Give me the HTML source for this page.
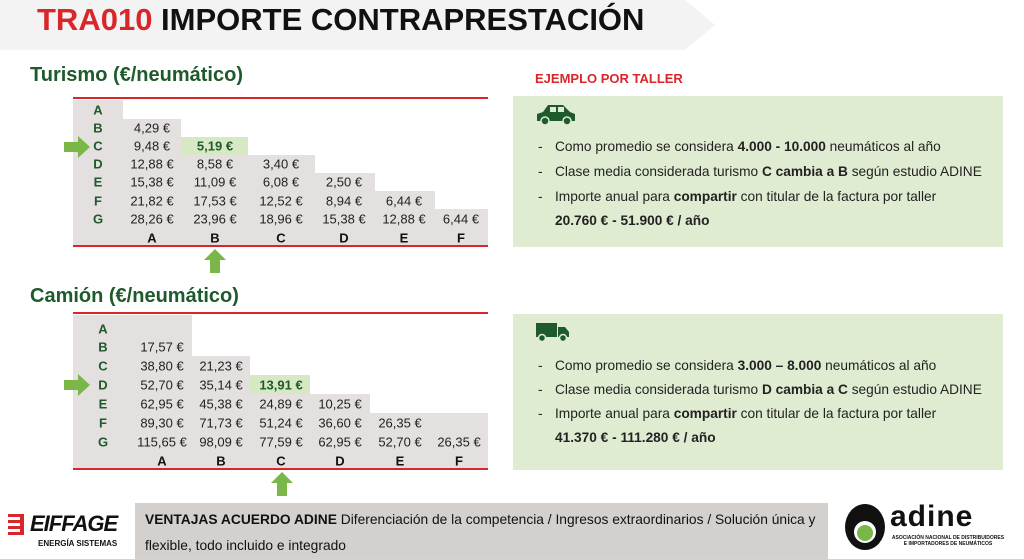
<!DOCTYPE html>
<html><head><meta charset="utf-8"><style>
body{margin:0;width:1024px;height:559px;overflow:hidden;background:#fff;font-family:"Liberation Sans",sans-serif;position:relative}
div,span.a{position:absolute}
.g{background:#e4e0df}
.gr{background:#d7e8c4}
.c{font-size:13px;color:#222;transform:translate(-50%,-50%);white-space:nowrap}
.l{font-size:13px;font-weight:bold;color:#1e5a2c;transform:translate(-50%,-50%)}
.k{font-size:13px;font-weight:bold;color:#111;transform:translate(-50%,-50%)}
.red{background:#d9262a;height:2px}
.h{font-size:20px;font-weight:bold;color:#1e5a2c}
.box{background:#e0ecd2}
.t{font-size:13.7px;color:#222;white-space:nowrap}
</style></head><body>
<div style="left:0;top:0;width:650px;height:50px;background:#f3f3f3"></div>
<svg style="position:absolute;left:640px;top:0" width="80" height="50"><polygon points="0,0 45,0 75,25 45,50 0,50" fill="#f3f3f3"/></svg>
<div style="left:37px;top:2px;font-size:31px;font-weight:bold;white-space:nowrap;color:#111"><span style="color:#d9262a">TRA010</span> IMPORTE CONTRAPRESTACIÓN</div>

<div class="h" style="left:30px;top:64px">Turismo (€/neumático)</div>
<div class="red" style="left:73px;top:97px;width:415px"></div>
<div class="red" style="left:73px;top:245px;width:415px"></div>
<div class="g" style="left:73px;top:100px;width:50px;height:145px"></div>
<div class="g" style="left:123px;top:119px;width:58px;height:126px"></div>
<div class="gr" style="left:181px;top:137px;width:67px;height:18px"></div>
<div class="g" style="left:181px;top:155px;width:67px;height:90px"></div>
<div class="g" style="left:248px;top:155px;width:67px;height:90px"></div>
<div class="g" style="left:315px;top:173px;width:60px;height:72px"></div>
<div class="g" style="left:375px;top:191px;width:60px;height:54px"></div>
<div class="g" style="left:435px;top:209px;width:53px;height:36px"></div>

<div class="l" style="left:98px;top:110px">A</div>
<div class="l" style="left:98px;top:128px">B</div>
<div class="l" style="left:98px;top:146px">C</div>
<div class="l" style="left:98px;top:164px">D</div>
<div class="l" style="left:98px;top:182px">E</div>
<div class="l" style="left:98px;top:201px">F</div>
<div class="l" style="left:98px;top:219px">G</div>
<div class="c" style="left:152px;top:128px">4,29 €</div>
<div class="c" style="left:152px;top:146px">9,48 €</div>
<div class="c" style="left:152px;top:164px">12,88 €</div>
<div class="c" style="left:152px;top:182px">15,38 €</div>
<div class="c" style="left:152px;top:201px">21,82 €</div>
<div class="c" style="left:152px;top:219px">28,26 €</div>
<div class="c" style="left:215px;top:146px;font-weight:bold;color:#1e5a2c">5,19 €</div>
<div class="c" style="left:215px;top:164px">8,58 €</div>
<div class="c" style="left:215px;top:182px">11,09 €</div>
<div class="c" style="left:215px;top:201px">17,53 €</div>
<div class="c" style="left:215px;top:219px">23,96 €</div>
<div class="c" style="left:281px;top:164px">3,40 €</div>
<div class="c" style="left:281px;top:182px">6,08 €</div>
<div class="c" style="left:281px;top:201px">12,52 €</div>
<div class="c" style="left:281px;top:219px">18,96 €</div>
<div class="c" style="left:344px;top:182px">2,50 €</div>
<div class="c" style="left:344px;top:201px">8,94 €</div>
<div class="c" style="left:344px;top:219px">15,38 €</div>
<div class="c" style="left:404px;top:201px">6,44 €</div>
<div class="c" style="left:404px;top:219px">12,88 €</div>
<div class="c" style="left:461px;top:219px">6,44 €</div>
<div class="k" style="left:152px;top:238px">A</div>
<div class="k" style="left:215px;top:238px">B</div>
<div class="k" style="left:281px;top:238px">C</div>
<div class="k" style="left:344px;top:238px">D</div>
<div class="k" style="left:404px;top:238px">E</div>
<div class="k" style="left:461px;top:238px">F</div>
<svg style="position:absolute;left:64px;top:136px" width="28" height="22"><polygon points="0,6 14,6 14,0 26,11 14,22 14,16 0,16" fill="#7ab648"/></svg>
<svg style="position:absolute;left:204px;top:249px" width="22" height="24"><polygon points="11,0 22,11 16,11 16,24 6,24 6,11 0,11" fill="#7ab648"/></svg>

<div class="h" style="left:30px;top:285px">Camión (€/neumático)</div>
<div class="red" style="left:73px;top:312px;width:415px"></div>
<div class="red" style="left:73px;top:468px;width:415px"></div>
<div class="g" style="left:73px;top:315px;width:119px;height:153px"></div>
<div class="g" style="left:192px;top:356px;width:58px;height:112px"></div>
<div class="gr" style="left:250px;top:375px;width:60px;height:19px"></div>
<div class="g" style="left:250px;top:394px;width:60px;height:74px"></div>
<div class="g" style="left:310px;top:394px;width:60px;height:74px"></div>
<div class="g" style="left:370px;top:413px;width:118px;height:55px"></div>

<div class="l" style="left:103px;top:329px">A</div>
<div class="l" style="left:103px;top:347px">B</div>
<div class="l" style="left:103px;top:366px">C</div>
<div class="l" style="left:103px;top:385px">D</div>
<div class="l" style="left:103px;top:404px">E</div>
<div class="l" style="left:103px;top:423px">F</div>
<div class="l" style="left:103px;top:442px">G</div>
<div class="c" style="left:162px;top:347px">17,57 €</div>
<div class="c" style="left:162px;top:366px">38,80 €</div>
<div class="c" style="left:162px;top:385px">52,70 €</div>
<div class="c" style="left:162px;top:404px">62,95 €</div>
<div class="c" style="left:162px;top:423px">89,30 €</div>
<div class="c" style="left:162px;top:442px">115,65 €</div>
<div class="c" style="left:221px;top:366px">21,23 €</div>
<div class="c" style="left:221px;top:385px">35,14 €</div>
<div class="c" style="left:221px;top:404px">45,38 €</div>
<div class="c" style="left:221px;top:423px">71,73 €</div>
<div class="c" style="left:221px;top:442px">98,09 €</div>
<div class="c" style="left:281px;top:385px;font-weight:bold;color:#1e5a2c">13,91 €</div>
<div class="c" style="left:281px;top:404px">24,89 €</div>
<div class="c" style="left:281px;top:423px">51,24 €</div>
<div class="c" style="left:281px;top:442px">77,59 €</div>
<div class="c" style="left:340px;top:404px">10,25 €</div>
<div class="c" style="left:340px;top:423px">36,60 €</div>
<div class="c" style="left:340px;top:442px">62,95 €</div>
<div class="c" style="left:400px;top:423px">26,35 €</div>
<div class="c" style="left:400px;top:442px">52,70 €</div>
<div class="c" style="left:459px;top:442px">26,35 €</div>
<div class="k" style="left:162px;top:461px">A</div>
<div class="k" style="left:221px;top:461px">B</div>
<div class="k" style="left:281px;top:461px">C</div>
<div class="k" style="left:340px;top:461px">D</div>
<div class="k" style="left:400px;top:461px">E</div>
<div class="k" style="left:459px;top:461px">F</div>
<svg style="position:absolute;left:64px;top:374px" width="28" height="22"><polygon points="0,6 14,6 14,0 26,11 14,22 14,16 0,16" fill="#7ab648"/></svg>
<svg style="position:absolute;left:271px;top:472px" width="22" height="24"><polygon points="11,0 22,11 16,11 16,24 6,24 6,11 0,11" fill="#7ab648"/></svg>

<div style="left:535px;top:71px;font-size:13px;font-weight:bold;color:#d9262a">EJEMPLO POR TALLER</div>
<div class="box" style="left:513px;top:96px;width:490px;height:151px"></div>
<svg style="position:absolute;left:535px;top:103px" width="42" height="22"><path d="M2,18 L2,11 L8,9 L13,2 L28,2 L35,9 L40,11 L40,18 Z" fill="#1e5a2c"/><rect x="15" y="4" width="6" height="5" fill="#e0ecd2"/><rect x="23" y="4" width="6" height="5" fill="#e0ecd2"/><circle cx="10" cy="18" r="4" fill="#1e5a2c" stroke="#e0ecd2" stroke-width="1.5"/><circle cx="32" cy="18" r="4" fill="#1e5a2c" stroke="#e0ecd2" stroke-width="1.5"/></svg>
<div class="t" style="left:538px;top:139px">-</div><div class="t" style="left:555px;top:139px">Como promedio se considera <b>4.000 - 10.000</b> neumáticos al año</div>
<div class="t" style="left:538px;top:164px">-</div><div class="t" style="left:555px;top:164px">Clase media considerada turismo <b>C cambia a B</b> según estudio ADINE</div>
<div class="t" style="left:538px;top:189px">-</div><div class="t" style="left:555px;top:189px">Importe anual para <b>compartir</b> con titular de la factura por taller</div>
<div class="t" style="left:555px;top:213px"><b>20.760 € - 51.900 € / año</b></div>

<div class="box" style="left:513px;top:314px;width:490px;height:156px"></div>
<svg style="position:absolute;left:535px;top:321px" width="36" height="22"><rect x="1" y="2" width="21" height="14" fill="#1e5a2c"/><path d="M23,6 L30,6 L34,11 L34,16 L23,16 Z" fill="#1e5a2c"/><circle cx="7" cy="17" r="3.5" fill="#1e5a2c" stroke="#e0ecd2" stroke-width="1.5"/><circle cx="28" cy="17" r="3.5" fill="#1e5a2c" stroke="#e0ecd2" stroke-width="1.5"/></svg>
<div class="t" style="left:538px;top:358px">-</div><div class="t" style="left:555px;top:358px">Como promedio se considera <b>3.000 – 8.000</b> neumáticos al año</div>
<div class="t" style="left:538px;top:382px">-</div><div class="t" style="left:555px;top:382px">Clase media considerada turismo <b>D cambia a C</b> según estudio ADINE</div>
<div class="t" style="left:538px;top:406px">-</div><div class="t" style="left:555px;top:406px">Importe anual para <b>compartir</b> con titular de la factura por taller</div>
<div class="t" style="left:555px;top:430px"><b>41.370 € - 111.280 € / año</b></div>

<div style="left:135px;top:503px;width:693px;height:56px;background:#d4d0ce"></div>
<div style="left:145px;top:512px;font-size:13.8px;color:#111;white-space:nowrap"><b>VENTAJAS ACUERDO ADINE</b> Diferenciación de la competencia / Ingresos extraordinarios / Solución única y</div>
<div style="left:145px;top:538px;font-size:13.8px;color:#111;white-space:nowrap">flexible, todo incluido e integrado</div>

<svg style="position:absolute;left:8px;top:513px" width="20" height="24"><rect x="0" y="1" width="14" height="3" fill="#d9262a"/><rect x="0" y="7" width="14" height="3" fill="#d9262a"/><rect x="0" y="13" width="14" height="3" fill="#d9262a"/><rect x="0" y="19" width="14" height="3" fill="#d9262a"/><rect x="12" y="1" width="4" height="21" fill="#d9262a"/></svg>
<div style="left:30px;top:511px;font-size:22px;font-weight:bold;font-style:italic;color:#111;letter-spacing:-1px">EIFFAGE</div>
<div style="left:38px;top:539px;font-size:8px;font-weight:bold;color:#111">ENERGÍA SISTEMAS</div>

<svg style="position:absolute;left:842px;top:502px" width="46" height="50"><ellipse cx="23" cy="25" rx="20" ry="23" fill="#111"/><ellipse cx="23" cy="30" rx="11" ry="11" fill="#fff"/><ellipse cx="23" cy="31" rx="8" ry="8" fill="#7ab648"/></svg>
<div style="left:890px;top:500px;font-size:30px;font-weight:bold;color:#111;letter-spacing:1px">adine</div>
<div style="left:888px;top:535px;font-size:5px;font-weight:bold;color:#111;line-height:6px;width:120px;text-align:center">ASOCIACIÓN NACIONAL DE DISTRIBUIDORES<br>E IMPORTADORES DE NEUMÁTICOS</div>
</body></html>
